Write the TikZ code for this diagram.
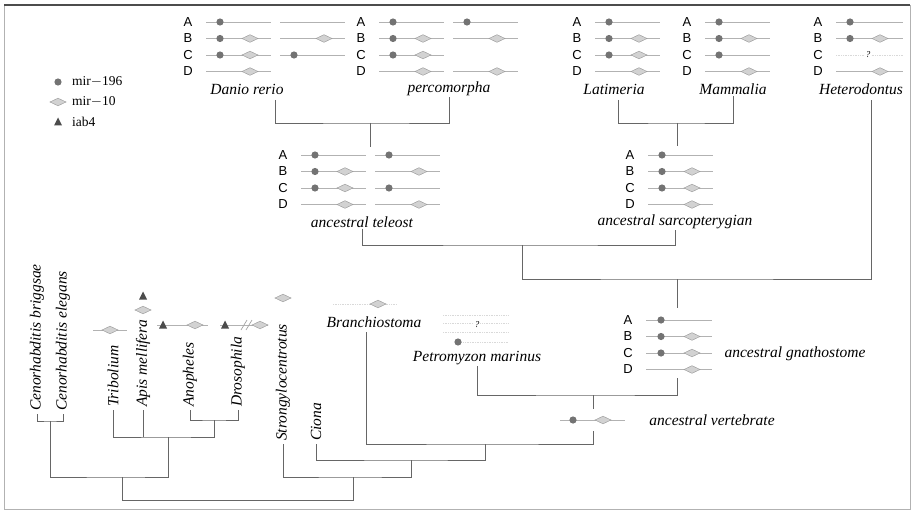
\documentclass[tikz,border=0pt]{standalone}
\usepackage{fontspec}
\setmainfont{Liberation Serif}
\newfontfamily\rowsans{Liberation Sans}
\usepackage{tikz}

\tikzset{
  mirc/.pic={\fill[black!55] (0,0) circle (3.6pt);},
  mird/.pic={\filldraw[fill=gray!35,draw=gray!75,line width=0.5pt]
      (-8pt,0) -- (0,3.8pt) -- (8pt,0) -- (0,-3.8pt) -- cycle;},
  iab/.pic={\fill[black!70] (-4pt,-3.5pt) -- (4pt,-3.5pt) -- (0,4.5pt) -- cycle;}
}

\begin{document}
\begin{tikzpicture}[x=1pt,y=-1pt,
    locus/.style={gray!60,line width=0.9pt},
    faint/.style={gray!30,densely dotted,line width=0.7pt},
    branch/.style={black!60,line width=0.7pt},
    taxon/.style={font=\fontsize{15.5}{17}\selectfont\itshape,inner sep=1pt},
    vtaxon/.style={taxon,rotate=90,anchor=west,inner sep=3pt},
    rowlab/.style={font=\fontsize{13}{15}\selectfont\rowsans,inner sep=0pt},
    legtext/.style={font=\fontsize{13.5}{15}\selectfont,anchor=west,inner sep=0pt}]
    \useasboundingbox (0,0) rectangle (914,519);
    \draw[gray!60,line width=0.8pt] (4,5) rectangle (910,509);
    \draw[black!70,line width=2pt] (4,5) -- (910,5);

    % legend
    \pic at (58,82) {mirc};
    \pic at (58,102) {mird};
    \pic at (58,122) {iab};
    \node[legtext] (leg196) at (72,82) {mir$-$196};
    \node[legtext] (leg10) at (72,102) {mir$-$10};
    \node[legtext] (legiab) at (72,122) {iab4};

    % Danio rerio
    \begin{scope}[shift={(188,22)}]
      \foreach \l [count=\i from 0] in {A,B,C,D}
        \node[rowlab] (dr\l) at (0,\i*16.5) {\l};
      \foreach \i in {0,...,3} \draw[locus] (18,\i*16.5) -- (83,\i*16.5);
      \foreach \i in {0,1,2} \draw[locus] (92,\i*16.5) -- (157,\i*16.5);
      \foreach \x/\i in {32/0,32/1,32/2,106/2} \pic at (\x,\i*16.5) {mirc};
      \foreach \x/\i in {62/1,62/2,62/3,136/1} \pic at (\x,\i*16.5) {mird};
    \end{scope}

    % percomorpha
    \begin{scope}[shift={(361,22)}]
      \foreach \l [count=\i from 0] in {A,B,C,D}
        \node[rowlab] (pc\l) at (0,\i*16.5) {\l};
      \foreach \i in {0,...,3} \draw[locus] (18,\i*16.5) -- (83,\i*16.5);
      \foreach \i in {0,1,3} \draw[locus] (92,\i*16.5) -- (157,\i*16.5);
      \foreach \x/\i in {32/0,32/1,32/2,106/0} \pic at (\x,\i*16.5) {mirc};
      \foreach \x/\i in {62/1,62/2,62/3,136/1,136/3} \pic at (\x,\i*16.5) {mird};
    \end{scope}

    % Latimeria
    \begin{scope}[shift={(577,22)}]
      \foreach \l [count=\i from 0] in {A,B,C,D}
        \node[rowlab] (lt\l) at (0,\i*16.5) {\l};
      \foreach \i in {0,...,3} \draw[locus] (18,\i*16.5) -- (83,\i*16.5);
      \foreach \x/\i in {32/0,32/1,32/2} \pic at (\x,\i*16.5) {mirc};
      \foreach \x/\i in {62/1,62/2,62/3} \pic at (\x,\i*16.5) {mird};
    \end{scope}

    % Mammalia
    \begin{scope}[shift={(687,22)}]
      \foreach \l [count=\i from 0] in {A,B,C,D}
        \node[rowlab] (mm\l) at (0,\i*16.5) {\l};
      \foreach \i in {0,...,3} \draw[locus] (18,\i*16.5) -- (83,\i*16.5);
      \foreach \x/\i in {32/0,32/1,32/2} \pic at (\x,\i*16.5) {mirc};
      \foreach \x/\i in {62/1,62/3} \pic at (\x,\i*16.5) {mird};
    \end{scope}

    % Heterodontus
    \begin{scope}[shift={(818,22)}]
      \foreach \l [count=\i from 0] in {A,B,C,D}
        \node[rowlab] (ht\l) at (0,\i*16.5) {\l};
      \foreach \i in {0,1,3} \draw[locus] (18,\i*16.5) -- (85,\i*16.5);
      \draw[faint] (18,33) -- (85,33);
      \node[fill=white,inner sep=1pt,font=\small\itshape] (htq) at (50,33) {?};
      \foreach \x/\i in {32/0,32/1} \pic at (\x,\i*16.5) {mirc};
      \foreach \x/\i in {62/1,62/3} \pic at (\x,\i*16.5) {mird};
    \end{scope}

    % ancestral teleost
    \begin{scope}[shift={(283,155)}]
      \foreach \l [count=\i from 0] in {A,B,C,D}
        \node[rowlab] (at\l) at (0,\i*16.5) {\l};
      \foreach \i in {0,...,3} \draw[locus] (18,\i*16.5) -- (83,\i*16.5);
      \foreach \i in {0,...,3} \draw[locus] (92,\i*16.5) -- (157,\i*16.5);
      \foreach \x/\i in {32/0,32/1,32/2,106/0,106/2} \pic at (\x,\i*16.5) {mirc};
      \foreach \x/\i in {62/1,62/2,62/3,136/1,136/3} \pic at (\x,\i*16.5) {mird};
    \end{scope}

    % ancestral sarcopterygian
    \begin{scope}[shift={(630,155)}]
      \foreach \l [count=\i from 0] in {A,B,C,D}
        \node[rowlab] (as\l) at (0,\i*16.5) {\l};
      \foreach \i in {0,...,3} \draw[locus] (18,\i*16.5) -- (83,\i*16.5);
      \foreach \x/\i in {32/0,32/1,32/2} \pic at (\x,\i*16.5) {mirc};
      \foreach \x/\i in {62/1,62/2,62/3} \pic at (\x,\i*16.5) {mird};
    \end{scope}

    % ancestral gnathostome
    \begin{scope}[shift={(628,320)}]
      \foreach \l [count=\i from 0] in {A,B,C,D}
        \node[rowlab] (ag\l) at (0,\i*16.5) {\l};
      \foreach \i in {0,...,3} \draw[locus] (18,\i*16.5) -- (84,\i*16.5);
      \foreach \x/\i in {33/0,33/1,33/2} \pic at (\x,\i*16.5) {mirc};
      \foreach \x/\i in {64/1,64/2,64/3} \pic at (\x,\i*16.5) {mird};
    \end{scope}

    % ancestral vertebrate
    \draw[locus] (560,420) -- (625,420);
    \pic at (573,420) {mirc};
    \pic at (603,420) {mird};

    % Petromyzon, Branchiostoma
    \foreach \y in {315,323,332} \draw[faint] (443,\y) -- (508,\y);
    \node[fill=white,inner sep=1pt,font=\small\itshape] (pmq) at (477,325) {?};
    \draw[faint] (458,342) -- (508,342);
    \pic at (458,342) {mirc};
    \draw[faint] (333,304) -- (397,304);
    \pic at (378,304) {mird};

    % protostome loci
    \draw[locus] (93,330) -- (127,330);
    \pic at (110,330) {mird};
    \pic at (143,296) {iab};
    \pic at (143,310) {mird};
    \draw[locus] (157,325) -- (208,325);
    \pic at (163,325) {iab};
    \pic at (195,325) {mird};
    \draw[locus] (220,325) -- (268,325);
    \pic at (225,325) {iab};
    \draw[gray!70,line width=0.7pt] (241,330) -- (247,320) (246,330) -- (252,320);
    \pic at (260,325) {mird};
    \pic at (283,298) {mird};

    % taxon names
    \node[taxon] (danio) at (247,89) {Danio rerio};
    \node[taxon] (perco) at (449,89) {percomorpha};
    \node[taxon] (latim) at (614,89) {Latimeria};
    \node[taxon] (mamm) at (733,89) {Mammalia};
    \node[taxon] (hetero) at (861,89) {Heterodontus};
    \node[taxon] (teleost) at (362,222) {ancestral teleost};
    \node[taxon] (sarco) at (675,222) {ancestral sarcopterygian};
    \node[taxon] (gnath) at (795,354) {ancestral gnathostome};
    \node[taxon] (vert) at (712,420) {ancestral vertebrate};
    \node[taxon] (petro) at (477,358) {Petromyzon marinus};
    \node[taxon] (branchio) at (374,322) {Branchiostoma};
    \node[vtaxon] (cbrig) at (37,414) {Cenorhabditis briggsae};
    \node[vtaxon] (celeg) at (63,414) {Cenorhabditis elegans};
    \node[vtaxon] (trib) at (113,410) {Tribolium};
    \node[vtaxon] (apis) at (143,410) {Apis mellifera};
    \node[vtaxon] (anoph) at (190,410) {Anopheles};
    \node[vtaxon] (droso) at (238,410) {Drosophila};
    \node[vtaxon] (strongy) at (283,444) {Strongylocentrotus};
    \node[vtaxon] (ciona) at (316,444) {Ciona};

    % tree
    \coordinate (danio-in) at (275,100);
    \coordinate (latim-in) at (618,100);
    \coordinate (hetero-in) at (871,100);
    \coordinate (branchio-in) at (366,332);
    \coordinate (j-teleo) at (370,123);
    \coordinate (teleo-in) at (370,147);
    \coordinate (j-sarco) at (677,123);
    \coordinate (sarco-in) at (677,146);
    \coordinate (j-osteich) at (522,245);
    \coordinate (j-gnath) at (677,279);
    \coordinate (gnath-in) at (677,308);
    \coordinate (gnath-out) at (677,378);
    \coordinate (j-vert) at (593,395);
    \coordinate (vert-up) at (593,409);
    \coordinate (vert-lo) at (593,431);
    \coordinate (j-chord) at (485,444);
    \coordinate (j-olf) at (411,460);
    \coordinate (j-deut) at (353,477);
    \coordinate (j-root) at (122,500);
    \coordinate (j-ecd) at (122,477);
    \coordinate (j-nema) at (50,421);
    \coordinate (j-ins) at (168,437);
    \coordinate (j-dipt) at (214,420);

    \draw[branch] (danio-in) |- (j-teleo) -| (perco.south);
    \draw[branch] (j-teleo) -- (teleo-in);
    \draw[branch] (latim-in) |- (j-sarco) -| (mamm.south);
    \draw[branch] (j-sarco) -- (sarco-in);
    \draw[branch] (teleost.south) |- (j-osteich) -| (sarco.south);
    \draw[branch] (j-osteich) |- (j-gnath) -| (hetero-in);
    \draw[branch] (j-gnath) -- (gnath-in);
    \draw[branch] (gnath-out) |- (j-vert) -| (petro.south);
    \draw[branch] (j-vert) -- (vert-up);
    \draw[branch] (vert-lo) |- (j-chord) -| (branchio-in);
    \draw[branch] (j-chord) |- (j-olf) -| (ciona.west);
    \draw[branch] (j-olf) |- (j-deut) -| (strongy.west);
    \draw[branch] (j-deut) |- (j-root) -- (j-ecd);
    \draw[branch] (j-nema) |- (j-ecd) -| (j-ins);
    \draw[branch] (cbrig.west) |- (j-nema) -| (celeg.west);
    \draw[branch] (trib.west) |- (j-ins) -| (j-dipt);
    \draw[branch] (apis.west) -- (apis.west |- j-ins);
    \draw[branch] (anoph.west) |- (j-dipt) -| (droso.west);
\end{tikzpicture}
\end{document}
